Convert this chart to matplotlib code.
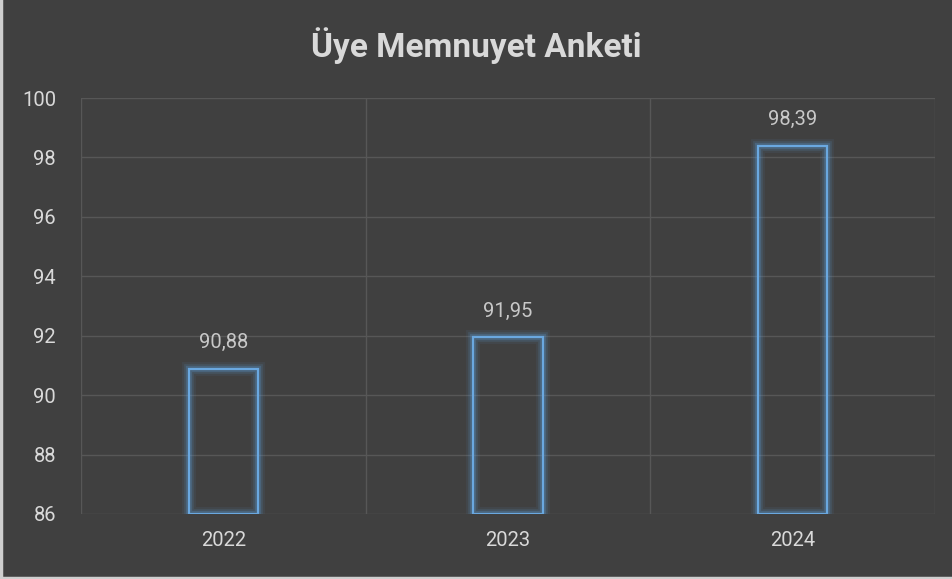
import matplotlib.pyplot as plt
import matplotlib.lines as mlines

years = ['2022', '2023', '2024']
scores = [90.88, 91.95, 98.39]
y_ticks = [86, 88, 90, 92, 94, 96, 98, 100]

bg = '#404040'
grid_color = '#575757'
text_color = '#d9d9d9'
bar_color = '#5b9bd5'

plt.rcParams['font.family'] = ['Roboto', 'DejaVu Sans']

fig = plt.figure(figsize=(9.52, 5.79), dpi=100)
fig.patch.set_facecolor(bg)
ax = fig.add_axes([0.0851, 0.1123, 0.8971, 0.7184])
ax.set_facecolor(bg)

x = range(len(years))
y_min = 86
heights = [v - y_min for v in scores]

# glow layers under the outline
for lw, a in [(10, 0.08), (7, 0.14), (4.5, 0.25)]:
    ax.bar(x, heights, bottom=y_min, width=0.243, fill=False,
           edgecolor=bar_color, linewidth=lw, alpha=a, joinstyle='miter')
ax.bar(x, heights, bottom=y_min, width=0.243, fill=False,
       edgecolor='#6aa8e0', linewidth=1.6, joinstyle='miter')

for i, v in enumerate(scores):
    ax.annotate(f'{v:.2f}'.replace('.', ','), (i, v), xytext=(0, 12),
                textcoords='offset points', ha='center', va='bottom',
                color='#c8c8c8', fontsize=14.5)

ax.set_xlim(-0.5, 2.5)
ax.set_ylim(86, 100)
ax.set_yticks(y_ticks)
ax.set_xticks(list(x))
ax.set_xticklabels(years)
ax.tick_params(colors=text_color, labelsize=14.5, length=0)
ax.tick_params(axis='x', pad=12)
ax.tick_params(axis='y', pad=18)

# horizontal and category gridlines
ax.grid(axis='y', color=grid_color, linewidth=1)
for b in [-0.5, 0.5, 1.5, 2.5]:
    ax.axvline(b, color=grid_color, linewidth=1, zorder=0)
ax.set_axisbelow(True)
for s in ax.spines.values():
    s.set_visible(False)

fig.text(0.5, 0.921, 'Üye Memnuyet Anketi', ha='center', va='center',
         color=text_color, fontsize=24, fontweight='bold')

# light frame on left and bottom edge
fig.lines.append(mlines.Line2D([0.0015, 0.0015], [0, 1], transform=fig.transFigure,
                               color='#cfcfcf', linewidth=2.5))
fig.lines.append(mlines.Line2D([0, 1], [0.0025, 0.0025], transform=fig.transFigure,
                               color='#cfcfcf', linewidth=2.5))

fig.savefig('out.png', dpi=100, facecolor=bg)
